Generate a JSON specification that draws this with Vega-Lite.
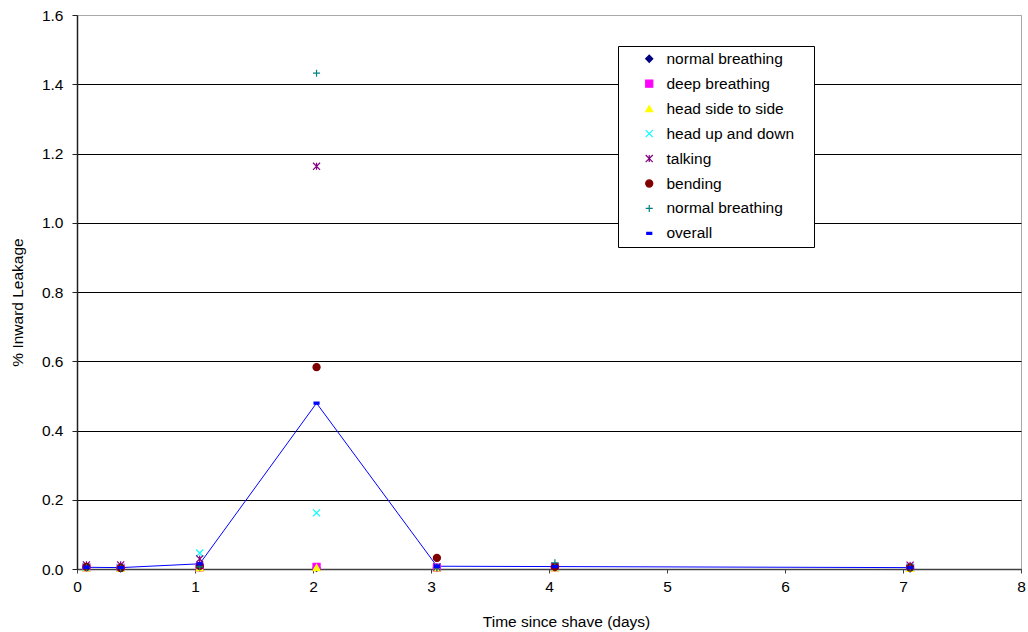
{
  "$schema": "https://vega.github.io/schema/vega-lite/v6.json",
  "width": 944,
  "height": 554,
  "autosize": {"type": "none"},
  "padding": {"left": 77, "top": 15, "right": 7, "bottom": 63},
  "background": "white",
  "config": {
    "font": "Liberation Sans",
    "view": {"stroke": "#a8a8a8", "strokeWidth": 1},
    "axis": {"labelColor": "black", "titleColor": "black", "labelFontSize": 15.5, "titleFontSize": 15.5, "titleFontWeight": "normal"},
    "legend": {
      "orient": "none", "legendX": 541, "legendY": 31,
      "strokeColor": "black", "fillColor": "white", "padding": 5,
      "symbolOffset": 18.5, "labelOffset": 9.5, "labelFontSize": 15.5, "labelColor": "black",
      "rowPadding": 7.95, "symbolSize": 50, "symbolStrokeWidth": 1.2
    }
  },
  "data": {"values": [
    {"t": 0.08, "series": "normal breathing", "v": 0.004},
    {"t": 0.37, "series": "normal breathing", "v": 0.002},
    {"t": 1.04, "series": "normal breathing", "v": 0.004},
    {"t": 2.03, "series": "normal breathing", "v": 0.003},
    {"t": 3.05, "series": "normal breathing", "v": 0.003},
    {"t": 4.05, "series": "normal breathing", "v": 0.004},
    {"t": 7.06, "series": "normal breathing", "v": 0.002},
    {"t": 0.08, "series": "deep breathing", "v": 0.005},
    {"t": 0.37, "series": "deep breathing", "v": 0.003},
    {"t": 1.04, "series": "deep breathing", "v": 0.005},
    {"t": 2.03, "series": "deep breathing", "v": 0.006},
    {"t": 3.05, "series": "deep breathing", "v": 0.004},
    {"t": 4.05, "series": "deep breathing", "v": 0.005},
    {"t": 7.06, "series": "deep breathing", "v": 0.003},
    {"t": 0.08, "series": "head side to side", "v": 0.003},
    {"t": 0.37, "series": "head side to side", "v": 0.002},
    {"t": 1.04, "series": "head side to side", "v": 0.003},
    {"t": 2.03, "series": "head side to side", "v": 0.004},
    {"t": 3.05, "series": "head side to side", "v": 0.003},
    {"t": 4.05, "series": "head side to side", "v": 0.003},
    {"t": 7.06, "series": "head side to side", "v": 0.002},
    {"t": 0.08, "series": "head up and down", "v": 0.006},
    {"t": 0.37, "series": "head up and down", "v": 0.004},
    {"t": 1.04, "series": "head up and down", "v": 0.046},
    {"t": 2.03, "series": "head up and down", "v": 0.162},
    {"t": 3.05, "series": "head up and down", "v": 0.006},
    {"t": 4.05, "series": "head up and down", "v": 0.006},
    {"t": 7.06, "series": "head up and down", "v": 0.005},
    {"t": 0.08, "series": "talking", "v": 0.012},
    {"t": 0.37, "series": "talking", "v": 0.012},
    {"t": 1.04, "series": "talking", "v": 0.029},
    {"t": 2.03, "series": "talking", "v": 1.163},
    {"t": 3.05, "series": "talking", "v": 0.006},
    {"t": 4.05, "series": "talking", "v": 0.008},
    {"t": 7.06, "series": "talking", "v": 0.011},
    {"t": 0.08, "series": "bending", "v": 0.006},
    {"t": 0.37, "series": "bending", "v": 0.003},
    {"t": 1.04, "series": "bending", "v": 0.009},
    {"t": 2.03, "series": "bending", "v": 0.583},
    {"t": 3.05, "series": "bending", "v": 0.032},
    {"t": 4.05, "series": "bending", "v": 0.006},
    {"t": 7.06, "series": "bending", "v": 0.004},
    {"t": 0.08, "series": "normal breathing ", "v": 0.004},
    {"t": 0.37, "series": "normal breathing ", "v": 0.002},
    {"t": 1.04, "series": "normal breathing ", "v": 0.006},
    {"t": 2.03, "series": "normal breathing ", "v": 1.432},
    {"t": 3.05, "series": "normal breathing ", "v": 0.004},
    {"t": 4.05, "series": "normal breathing ", "v": 0.018},
    {"t": 7.06, "series": "normal breathing ", "v": 0.003},
    {"t": 0.08, "series": "overall", "v": 0.005},
    {"t": 0.37, "series": "overall", "v": 0.004},
    {"t": 1.04, "series": "overall", "v": 0.015},
    {"t": 2.03, "series": "overall", "v": 0.479},
    {"t": 3.05, "series": "overall", "v": 0.008},
    {"t": 4.05, "series": "overall", "v": 0.007},
    {"t": 7.06, "series": "overall", "v": 0.004}
  ]},
  "encoding": {
    "x": {"field": "t", "type": "quantitative",
      "scale": {"domain": [0, 8], "nice": false},
      "axis": {"values": [0, 1, 2, 3, 4, 5, 6, 7, 8], "grid": false, "format": "d",
        "domainColor": "#404040", "domainWidth": 1.5, "tickColor": "#404040", "tickSize": 4,
        "labelPadding": 6, "labelFlush": false,
        "title": "Time since shave (days)", "titleX": 489, "titleY": 52, "titleBaseline": "middle", "titleAlign": "center"}},
    "y": {"field": "v", "type": "quantitative",
      "scale": {"domain": [0, 1.6], "nice": false},
      "axis": {"values": [0, 0.2, 0.4, 0.6, 0.8, 1.0, 1.2, 1.4, 1.6], "format": ".1f",
        "grid": true, "gridColor": {"condition": {"test": "datum.value > 1.55", "value": "#a8a8a8"}, "value": "black"}, "gridWidth": 1, "gridOpacity": 1,
        "domainColor": "#202020", "domainWidth": 1.5, "tickColor": "#202020", "tickSize": 5,
        "labelPadding": 9,
        "title": "% Inward Leakage", "titleX": -60, "titleY": 287, "titleAngle": 270, "titleBaseline": "middle", "titleAlign": "center"}}
  },
  "layer": [
    {
      "transform": [{"filter": "datum.series == 'overall'"}],
      "mark": {"type": "line", "color": "#0000FF", "strokeWidth": 1}
    },
    {
      "mark": {"type": "point", "filled": true, "size": 50, "strokeWidth": 1.2, "opacity": 1},
      "encoding": {
        "fill": {"field": "series", "type": "nominal",
          "scale": {"domain": ["normal breathing", "deep breathing", "head side to side", "head up and down", "talking", "bending", "normal breathing ", "overall"],
                    "range": ["#000080", "#FF00FF", "#FFFF00", "#00FFFF", "#800080", "#800000", "#008080", "#0000FF"]},
          "legend": {"title": "\u00a0", "titleOrient": "right", "titlePadding": 15, "titleFontSize": 15.5}},
        "stroke": {"field": "series", "type": "nominal",
          "scale": {"domain": ["normal breathing", "deep breathing", "head side to side", "head up and down", "talking", "bending", "normal breathing ", "overall"],
                    "range": ["#000080", "#FF00FF", "#FFFF00", "#00FFFF", "#800080", "#800000", "#008080", "#0000FF"]},
          "legend": {"title": "\u00a0", "titleOrient": "right", "titlePadding": 15, "titleFontSize": 15.5}},
        "shape": {"field": "series", "type": "nominal",
          "scale": {"domain": ["normal breathing", "deep breathing", "head side to side", "head up and down", "talking", "bending", "normal breathing ", "overall"],
                    "range": ["diamond", "square", "triangle-up", "M-1,-1L1,1M1,-1L-1,1", "M-1,-1L1,1M1,-1L-1,1M0,-1L0,1", "circle", "M-1,0L1,0M0,-1L0,1", "M-0.7,-0.3H0.7V0.3H-0.7Z"]},
          "legend": {"title": "\u00a0", "titleOrient": "right", "titlePadding": 15, "titleFontSize": 15.5}}
      }
    }
  ]
}
